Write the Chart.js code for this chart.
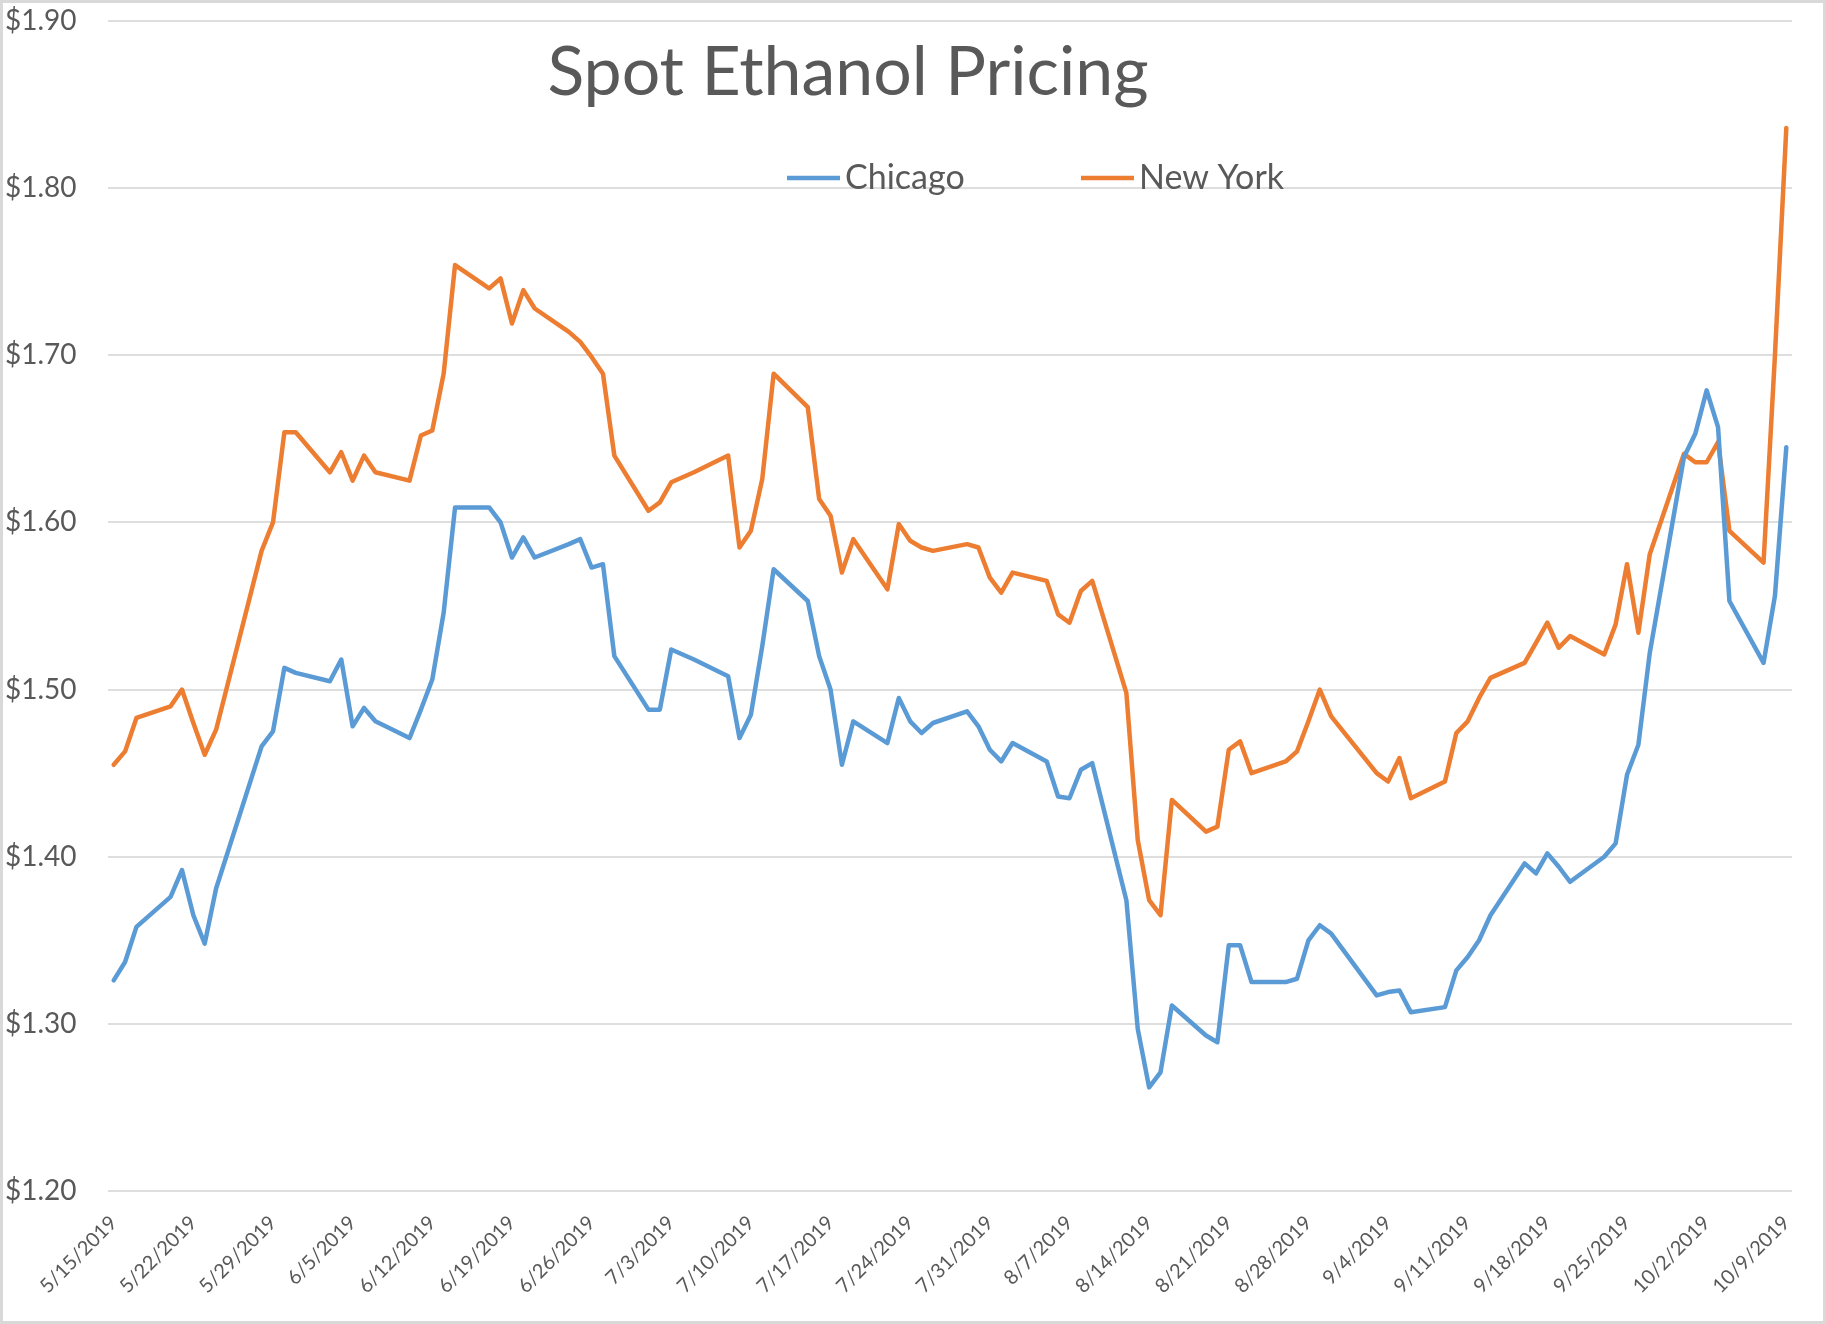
<!DOCTYPE html>
<html>
<head>
<meta charset="utf-8">
<title>Spot Ethanol Pricing</title>
<script src="https://cdn.jsdelivr.net/npm/chart.js@4.4.1/dist/chart.umd.min.js"></script>
<style>
  html, body { margin: 0; padding: 0; background: #ffffff; }
  #wrap { position: relative; width: 1826px; height: 1324px; }
  canvas { display: block; }
</style>
</head>
<body>
<div id="wrap"><canvas id="c" width="1826" height="1324"></canvas></div>
<script>
// ---------------- DATA ----------------
const TITLE = 'Spot Ethanol Pricing';
const seriesNames = ['Chicago', 'New York'];

const dates = [
  '5/15/2019','5/16/2019','5/17/2019','5/20/2019','5/21/2019','5/22/2019','5/23/2019','5/24/2019',
  '5/28/2019','5/29/2019','5/30/2019','5/31/2019',
  '6/3/2019','6/4/2019','6/5/2019','6/6/2019','6/7/2019',
  '6/10/2019','6/11/2019','6/12/2019','6/13/2019','6/14/2019',
  '6/17/2019','6/18/2019','6/19/2019','6/20/2019','6/21/2019',
  '6/24/2019','6/25/2019','6/26/2019','6/27/2019','6/28/2019',
  '7/1/2019','7/2/2019','7/3/2019','7/5/2019',
  '7/8/2019','7/9/2019','7/10/2019','7/11/2019','7/12/2019',
  '7/15/2019','7/16/2019','7/17/2019','7/18/2019','7/19/2019',
  '7/22/2019','7/23/2019','7/24/2019','7/25/2019','7/26/2019',
  '7/29/2019','7/30/2019','7/31/2019','8/1/2019','8/2/2019',
  '8/5/2019','8/6/2019','8/7/2019','8/8/2019','8/9/2019',
  '8/12/2019','8/13/2019','8/14/2019','8/15/2019','8/16/2019',
  '8/19/2019','8/20/2019','8/21/2019','8/22/2019','8/23/2019',
  '8/26/2019','8/27/2019','8/28/2019','8/29/2019','8/30/2019',
  '9/3/2019','9/4/2019','9/5/2019','9/6/2019',
  '9/9/2019','9/10/2019','9/11/2019','9/12/2019','9/13/2019',
  '9/16/2019','9/17/2019','9/18/2019','9/19/2019','9/20/2019',
  '9/23/2019','9/24/2019','9/25/2019','9/26/2019','9/27/2019',
  '9/30/2019','10/1/2019','10/2/2019','10/3/2019','10/4/2019',
  '10/7/2019','10/8/2019','10/9/2019'
];

const chicago = [
  1.326,1.337,1.358,1.376,1.392,1.365,1.348,1.381,
  1.466,1.475,1.513,1.510,
  1.505,1.518,1.478,1.489,1.481,
  1.471,1.488,1.506,1.546,1.609,
  1.609,1.600,1.579,1.591,1.579,
  1.587,1.590,1.573,1.575,1.520,
  1.488,1.488,1.524,1.518,
  1.508,1.471,1.485,1.526,1.572,
  1.553,1.520,1.500,1.455,1.481,
  1.468,1.495,1.481,1.474,1.480,
  1.487,1.478,1.464,1.457,1.468,
  1.457,1.436,1.435,1.452,1.456,
  1.374,1.297,1.262,1.271,1.311,
  1.293,1.289,1.347,1.347,1.325,
  1.325,1.327,1.350,1.359,1.354,
  1.317,1.319,1.320,1.307,
  1.310,1.332,1.340,1.350,1.365,
  1.396,1.390,1.402,1.394,1.385,
  1.400,1.408,1.449,1.467,1.522,
  1.639,1.653,1.679,1.657,1.553,
  1.516,1.556,1.645
];

const newYork = [
  1.455,1.463,1.483,1.490,1.500,1.480,1.461,1.476,
  1.583,1.600,1.654,1.654,
  1.630,1.642,1.625,1.640,1.630,
  1.625,1.652,1.655,1.689,1.754,
  1.740,1.746,1.719,1.739,1.728,
  1.714,1.708,1.699,1.689,1.640,
  1.607,1.612,1.624,1.630,
  1.640,1.585,1.595,1.626,1.689,
  1.669,1.614,1.604,1.570,1.590,
  1.560,1.599,1.589,1.585,1.583,
  1.587,1.585,1.567,1.558,1.570,
  1.565,1.545,1.540,1.559,1.565,
  1.498,1.410,1.374,1.365,1.434,
  1.415,1.418,1.464,1.469,1.450,
  1.457,1.463,1.481,1.500,1.484,
  1.450,1.445,1.459,1.435,
  1.445,1.474,1.481,1.495,1.507,
  1.516,1.528,1.540,1.525,1.532,
  1.521,1.539,1.575,1.534,1.581,
  1.641,1.636,1.636,1.648,1.595,
  1.576,1.700,1.836
];

const tickLabels = [
  '5/15/2019','5/22/2019','5/29/2019','6/5/2019','6/12/2019','6/19/2019','6/26/2019',
  '7/3/2019','7/10/2019','7/17/2019','7/24/2019','7/31/2019','8/7/2019','8/14/2019',
  '8/21/2019','8/28/2019','9/4/2019','9/11/2019','9/18/2019','9/25/2019','10/2/2019','10/9/2019'
];
const yTicks = { min: 1.20, max: 1.90, step: 0.10 };

// ---------------- HELPERS ----------------
function toUTC(s) {
  const p = s.split('/').map(Number);
  return Date.UTC(p[2], p[0] - 1, p[1]);
}
const T0 = toUTC(dates[0]);
function dayOf(s) { return Math.round((toUTC(s) - T0) / 86400000); }
const tickDayMap = {};
tickLabels.forEach(l => { tickDayMap[dayOf(l)] = l; });

const FONT = "Lato, 'Open Sans', 'Noto Sans', sans-serif";
const TEXT = '#595959';
const BLUE = '#5B9BD5';
const ORANGE = '#ED7D31';

// ---------------- PLUGINS ----------------
const frame = {
  id: 'frame',
  beforeDraw(chart) {
    const ctx = chart.ctx;
    ctx.save();
    ctx.fillStyle = '#ffffff';
    ctx.fillRect(0, 0, chart.width, chart.height);
    ctx.strokeStyle = '#d9d9d9';
    ctx.lineWidth = 3;
    ctx.strokeRect(1.5, 1.5, chart.width - 3, chart.height - 3);
    ctx.restore();
  }
};

const titleAndLegend = {
  id: 'titleAndLegend',
  afterDraw(chart, args, opts) {
    const ctx = chart.ctx;
    ctx.save();
    // title
    ctx.fillStyle = TEXT;
    ctx.font = '68px ' + FONT;
    ctx.textAlign = 'center';
    ctx.textBaseline = 'alphabetic';
    ctx.fillText(opts.title, opts.titleX, opts.titleY);
    // legend
    ctx.font = '34px ' + FONT;
    ctx.textAlign = 'left';
    chart.data.datasets.forEach((ds, i) => {
      const item = opts.items[i];
      ctx.strokeStyle = ds.borderColor;
      ctx.lineWidth = 4.5;
      ctx.beginPath();
      ctx.moveTo(item.x, opts.legendY);
      ctx.lineTo(item.x + opts.sampleLen, opts.legendY);
      ctx.stroke();
      ctx.fillStyle = TEXT;
      ctx.fillText(ds.label, item.x + opts.sampleLen + 5, opts.legendY + 11);
    });
    ctx.restore();
  }
};

// ---------------- CHART ----------------
const ctx = document.getElementById('c').getContext('2d');
new Chart(ctx, {
  type: 'line',
  data: {
    datasets: [
      {
        label: seriesNames[0],
        data: dates.map((d, i) => ({ x: dayOf(d), y: chicago[i] })),
        borderColor: BLUE,
        backgroundColor: BLUE,
        borderWidth: 4.5,
        pointRadius: 0,
        tension: 0,
        borderJoinStyle: 'round',
        borderCapStyle: 'round'
      },
      {
        label: seriesNames[1],
        data: dates.map((d, i) => ({ x: dayOf(d), y: newYork[i] })),
        borderColor: ORANGE,
        backgroundColor: ORANGE,
        borderWidth: 4.5,
        pointRadius: 0,
        tension: 0,
        borderJoinStyle: 'round',
        borderCapStyle: 'round'
      }
    ]
  },
  options: {
    responsive: false,
    animation: false,
    layout: { padding: { left: 5, right: 34, top: 21, bottom: 0 } },
    plugins: {
      legend: { display: false },
      title: { display: false },
      tooltip: { enabled: false },
      titleAndLegend: {
        title: TITLE,
        titleX: 848,
        titleY: 95,
        legendY: 178,
        sampleLen: 53,
        items: [{ x: 787 }, { x: 1081 }]
      }
    },
    scales: {
      x: {
        type: 'linear',
        min: -0.5,
        max: dayOf(dates[dates.length - 1]) + 0.5,
        grid: { display: false, drawTicks: false },
        border: { display: false },
        afterBuildTicks(scale) {
          scale.ticks = tickLabels.map(l => ({ value: dayOf(l) }));
        },
        afterFit(scale) { scale.height = 133; },
        ticks: {
          autoSkip: false,
          minRotation: 45,
          maxRotation: 45,
          padding: 20,
          color: TEXT,
          font: { family: FONT, size: 20 },
          callback(v) { return tickDayMap[v] || ''; }
        }
      },
      y: {
        min: yTicks.min,
        max: yTicks.max,
        grid: { color: '#dedede', lineWidth: 2, drawTicks: false },
        border: { display: false },
        afterFit(scale) { scale.width = 103; },
        ticks: {
          stepSize: yTicks.step,
          crossAlign: 'far',
          padding: 0,
          color: TEXT,
          font: { family: FONT, size: 28 },
          callback(v) { return '$' + Number(v).toFixed(2); }
        }
      }
    }
  },
  plugins: [frame, titleAndLegend]
});
</script>
</body>
</html>
